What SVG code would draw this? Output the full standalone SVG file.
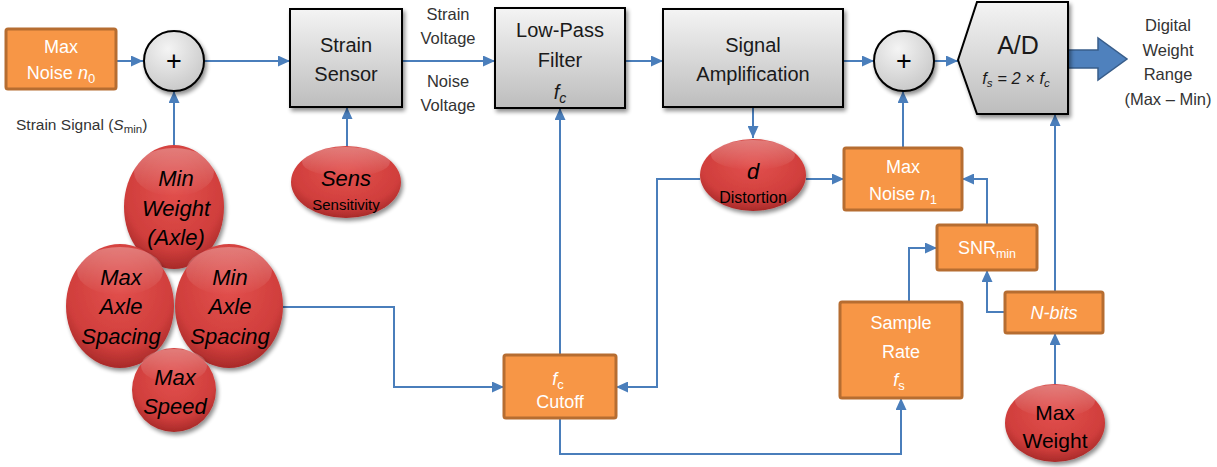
<svg xmlns="http://www.w3.org/2000/svg" width="1217" height="467" viewBox="0 0 1217 467">
  <defs>
    <linearGradient id="grayFill" x1="0" y1="0" x2="0" y2="1">
      <stop offset="0" stop-color="#F4F4F4"/>
      <stop offset="1" stop-color="#BDBDBD"/>
    </linearGradient>
    <radialGradient id="sumFill" cx="0.4" cy="0.3" r="0.8">
      <stop offset="0" stop-color="#F4F4F4"/>
      <stop offset="1" stop-color="#C4C4C4"/>
    </radialGradient>
    <radialGradient id="redFill" cx="0.5" cy="0.35" r="0.65">
      <stop offset="0" stop-color="#E2504D"/>
      <stop offset="0.75" stop-color="#D03E3C"/>
      <stop offset="1" stop-color="#A82A29"/>
    </radialGradient>
    <linearGradient id="gloss" x1="0" y1="0" x2="0" y2="1">
      <stop offset="0" stop-color="#FFFFFF" stop-opacity="0.3"/>
      <stop offset="1" stop-color="#FFFFFF" stop-opacity="0"/>
    </linearGradient>
    <filter id="shadow" x="-20%" y="-20%" width="150%" height="150%">
      <feGaussianBlur in="SourceAlpha" stdDeviation="2"/>
      <feOffset dx="2" dy="3" result="off"/>
      <feComponentTransfer><feFuncA type="linear" slope="0.45"/></feComponentTransfer>
      <feMerge><feMergeNode/><feMergeNode in="SourceGraphic"/></feMerge>
    </filter>
    <marker id="arrow" markerUnits="userSpaceOnUse" markerWidth="12" markerHeight="11" refX="12" refY="5.5" orient="auto">
      <path d="M0,0 L12,5.5 L0,11 z" fill="#4A7EBB"/>
    </marker>
    <style>
      .gray { fill: url(#grayFill); stroke: #000; stroke-width: 2; filter: url(#shadow); }
      .sum { fill: url(#sumFill); stroke: #000; stroke-width: 2; filter: url(#shadow); }
      .orange { fill: #F79646; stroke: #B66D31; stroke-width: 3; }
      .red { fill: url(#redFill); filter: url(#shadow); }
      .gl { fill: url(#gloss); }
      .conn { fill: none; stroke: #4A7EBB; stroke-width: 2; }
      text { font-family: "Liberation Sans", Arial, sans-serif; text-anchor: middle; }
      .lbl { font-size: 20px; fill: #1A1A1A; }
      .wt { font-size: 18px; fill: #FFFFFF; }
      .note { font-size: 16.5px; fill: #333333; }
      .it { font-style: italic; }
      .rt { font-size: 22px; font-style: italic; fill: #000; }
    </style>
  </defs>

  <!-- connectors -->
  <g id="connectors">
    <path class="conn" d="M116,61 H143" marker-end="url(#arrow)"/>
    <path class="conn" d="M204,61 H290" marker-end="url(#arrow)"/>
    <path class="conn" d="M174,145 V91" marker-end="url(#arrow)"/>
    <path class="conn" d="M402,61 H495" marker-end="url(#arrow)"/>
    <path class="conn" d="M625,61 H663" marker-end="url(#arrow)"/>
    <path class="conn" d="M843,61 H874" marker-end="url(#arrow)"/>
    <path class="conn" d="M934,61 H958" marker-end="url(#arrow)"/>
    <path class="conn" d="M347,147 V107" marker-end="url(#arrow)"/>
    <path class="conn" d="M560,355 V108" marker-end="url(#arrow)"/>
    <path class="conn" d="M753,107 V138" marker-end="url(#arrow)"/>
    <path class="conn" d="M806,179 H844" marker-end="url(#arrow)"/>
    <path class="conn" d="M700,179 H657 V387 H616" marker-end="url(#arrow)"/>
    <path class="conn" d="M283,307 H394 V387 H504" marker-end="url(#arrow)"/>
    <path class="conn" d="M560,418 V454 H901 V398" marker-end="url(#arrow)"/>
    <path class="conn" d="M909,302 V248 H937" marker-end="url(#arrow)"/>
    <path class="conn" d="M987,225 V179 H962" marker-end="url(#arrow)"/>
    <path class="conn" d="M903,148 V91" marker-end="url(#arrow)"/>
    <path class="conn" d="M1005,312 H987 V270" marker-end="url(#arrow)"/>
    <path class="conn" d="M1055,292 V114" marker-end="url(#arrow)"/>
    <path class="conn" d="M1055,384 V333" marker-end="url(#arrow)"/>
    <!-- wide output arrow -->
    <path d="M1068,50 H1098 V38 L1127,59 L1098,80 V68 H1068 Z" fill="#4F81BD" stroke="#385D8A" stroke-width="1.5"/>
  </g>

  <!-- signal-path labels -->
  <g id="signal-labels">
    <text class="note" x="448" y="20" font-size="15.5">Strain</text>
    <text class="note" x="448" y="44">Voltage</text>
    <text class="note" x="448" y="87">Noise</text>
    <text class="note" x="448" y="111">Voltage</text>
    <text x="16" y="130" font-size="15.5" fill="#333" style="text-anchor:start">Strain Signal (<tspan class="it">S</tspan><tspan font-size="11.5" dy="3">min</tspan><tspan dy="-3">)</tspan></text>
  </g>

  <g id="max-noise-n0">
    <rect class="orange" x="6" y="29" width="110" height="60" rx="2"/>
    <text class="wt" x="61" y="53" font-size="19">Max</text>
    <text class="wt" x="61" y="79" font-size="19">Noise <tspan class="it">n</tspan><tspan font-size="13" dy="4">0</tspan></text>
  </g>

  <g id="sum-1">
    <circle class="sum" cx="174" cy="61" r="30"/>
    <text x="174" y="70" font-size="27" fill="#000">+</text>
  </g>

  <g id="strain-sensor">
    <rect class="gray" x="290" y="9" width="112" height="98"/>
    <text class="lbl" x="346" y="52">Strain</text>
    <text class="lbl" x="346" y="81">Sensor</text>
  </g>

  <g id="low-pass-filter">
    <rect class="gray" x="495" y="8" width="130" height="100"/>
    <text class="lbl" x="560" y="37">Low-Pass</text>
    <text class="lbl" x="560" y="67">Filter</text>
    <text class="lbl it" x="560" y="99" font-size="22">f<tspan font-size="14" dy="4">c</tspan></text>
  </g>

  <g id="signal-amplification">
    <rect class="gray" x="663" y="9" width="180" height="98"/>
    <text class="lbl" x="753" y="52">Signal</text>
    <text class="lbl" x="753" y="81">Amplification</text>
  </g>

  <g id="sum-2">
    <circle class="sum" cx="904" cy="61" r="30"/>
    <text x="904" y="70" font-size="27" fill="#000">+</text>
  </g>

  <g id="a-d">
    <path class="gray" d="M977,2 H1068 V114 H977 L958,60 Z"/>
    <text x="1018" y="54" font-size="25" fill="#1A1A1A">A/D</text>
    <text class="it" x="1016" y="84" font-size="16.5" fill="#1A1A1A">f<tspan font-size="11.5" dy="3">s</tspan><tspan dy="-3"> = 2 × f</tspan><tspan font-size="11.5" dy="3">c</tspan></text>
  </g>

  <g id="digital-weight-range">
    <text class="note" x="1168" y="31">Digital</text>
    <text class="note" x="1168" y="56">Weight</text>
    <text class="note" x="1168" y="80">Range</text>
    <text class="note" x="1168" y="105">(Max – Min)</text>
  </g>

  <g id="min-weight-axle">
    <ellipse class="red" cx="174" cy="207" rx="50" ry="62"/>
    <ellipse class="gl" cx="174" cy="172" rx="40" ry="24"/>
    <text class="rt" x="176" y="186">Min</text>
    <text class="rt" x="176" y="216">Weight</text>
    <text class="rt" x="176" y="245">(Axle)</text>
  </g>

  <g id="max-axle-spacing">
    <ellipse class="red" cx="120" cy="306" rx="54" ry="62"/>
    <ellipse class="gl" cx="120" cy="271" rx="43" ry="24"/>
    <text class="rt" x="121" y="285">Max</text>
    <text class="rt" x="121" y="314">Axle</text>
    <text class="rt" x="121" y="344">Spacing</text>
  </g>

  <g id="min-axle-spacing">
    <ellipse class="red" cx="229" cy="306" rx="54" ry="62"/>
    <ellipse class="gl" cx="229" cy="271" rx="43" ry="24"/>
    <text class="rt" x="230" y="285">Min</text>
    <text class="rt" x="230" y="314">Axle</text>
    <text class="rt" x="230" y="344">Spacing</text>
  </g>

  <g id="max-speed">
    <ellipse class="red" cx="174" cy="390" rx="42" ry="42"/>
    <ellipse class="gl" cx="174" cy="366" rx="33" ry="17"/>
    <text class="rt" x="175" y="385">Max</text>
    <text class="rt" x="175" y="414">Speed</text>
  </g>

  <g id="sensitivity">
    <ellipse class="red" cx="346" cy="182" rx="55" ry="36"/>
    <ellipse class="gl" cx="346" cy="162" rx="44" ry="15"/>
    <text class="rt" x="346" y="186" font-size="25">Sens</text>
    <text x="346" y="210" font-size="15" fill="#000">Sensitivity</text>
  </g>

  <g id="distortion">
    <ellipse class="red" cx="753" cy="175" rx="53" ry="36"/>
    <ellipse class="gl" cx="753" cy="155" rx="42" ry="15"/>
    <text class="rt" x="753" y="179" font-size="27">d</text>
    <text x="753" y="203" font-size="16" fill="#000">Distortion</text>
  </g>

  <g id="max-noise-n1">
    <rect class="orange" x="844" y="148" width="118" height="62" rx="2"/>
    <text class="wt" x="903" y="173">Max</text>
    <text class="wt" x="903" y="200">Noise <tspan class="it">n</tspan><tspan font-size="12.5" dy="4">1</tspan></text>
  </g>

  <g id="snr-min">
    <rect class="orange" x="937" y="225" width="100" height="45" rx="2"/>
    <text class="wt" x="987" y="254">SNR<tspan font-size="12.5" dy="4">min</tspan></text>
  </g>

  <g id="n-bits">
    <rect class="orange" x="1005" y="292" width="98" height="41" rx="2"/>
    <text class="wt it" x="1054" y="319">N-bits</text>
  </g>

  <g id="sample-rate">
    <rect class="orange" x="840" y="302" width="122" height="96" rx="2"/>
    <text class="wt" x="901" y="329">Sample</text>
    <text class="wt" x="901" y="358">Rate</text>
    <text class="wt" x="899" y="386" font-size="20"><tspan class="it">f</tspan><tspan font-size="13" dy="4">s</tspan></text>
  </g>

  <g id="cutoff">
    <rect class="orange" x="504" y="355" width="112" height="63" rx="2"/>
    <text class="wt" x="558" y="385" font-size="20"><tspan class="it">f</tspan><tspan font-size="13" dy="4">c</tspan></text>
    <text class="wt" x="560" y="408">Cutoff</text>
  </g>

  <g id="max-weight">
    <ellipse class="red" cx="1055" cy="423" rx="50" ry="39"/>
    <ellipse class="gl" cx="1055" cy="401" rx="40" ry="16"/>
    <text x="1055" y="420" font-size="21" fill="#000">Max</text>
    <text x="1055" y="448" font-size="21" fill="#000">Weight</text>
  </g>
</svg>
